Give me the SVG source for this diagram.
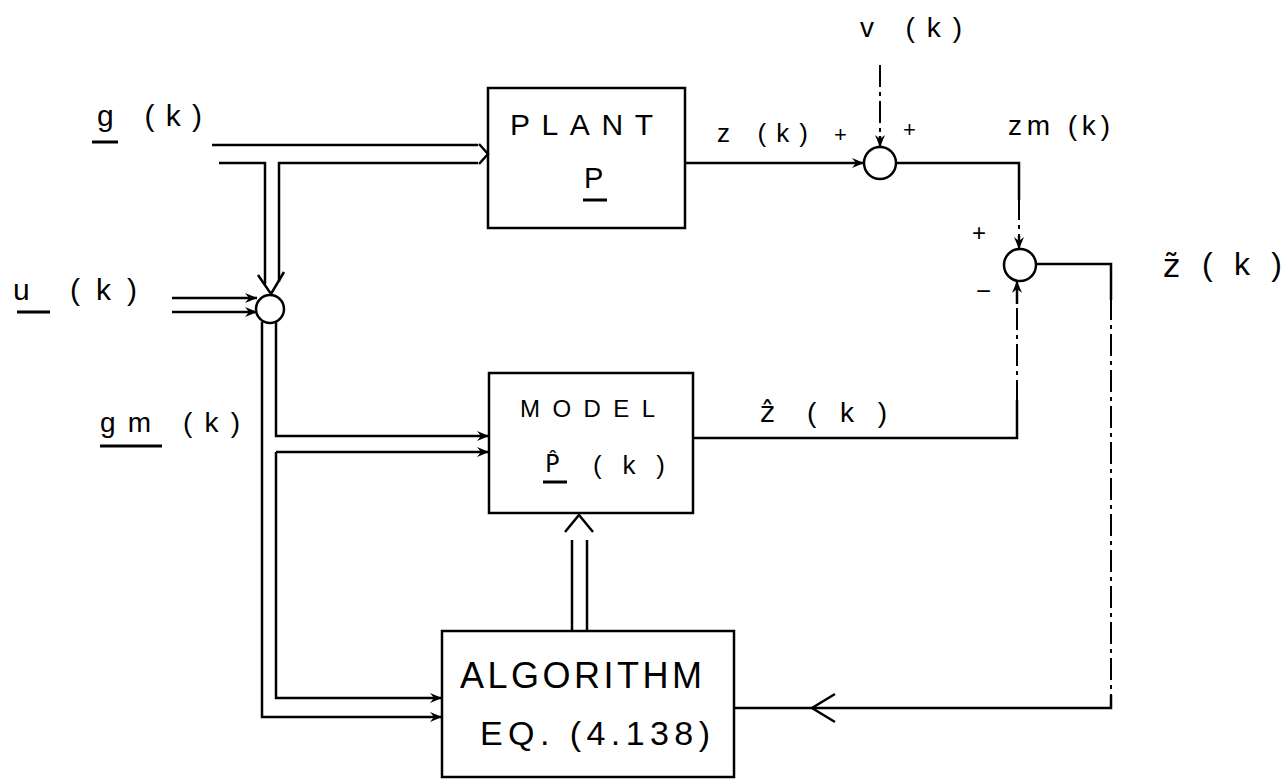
<svg xmlns="http://www.w3.org/2000/svg" width="1288" height="782" viewBox="0 0 1288 782">
<style>
  text { font-family: "Liberation Sans", Arial, sans-serif; fill: #000; }
  .acc { font-family: "DejaVu Sans", "Liberation Sans", sans-serif; }
  .box { fill: none; stroke: #000; stroke-width: 2.5; }
  .ln { fill: none; stroke: #000; stroke-width: 2.5; stroke-linejoin: miter; }
  .faint { fill: none; stroke: #000; stroke-width: 2; stroke-dasharray: 22 5 4 5; }
  .sum { fill: none; stroke: #000; stroke-width: 2.5; }
  .chev { fill: none; stroke: #000; stroke-width: 2.5; stroke-linejoin: miter; }
  .ul { stroke: #000; stroke-width: 3; }
</style>
<defs>
  <marker id="arr" viewBox="0 0 14 12" refX="13" refY="6" markerWidth="14" markerHeight="12" markerUnits="userSpaceOnUse" orient="auto">
    <path d="M1,1 L13,6 L1,11 L5,6 Z" fill="#000"/>
  </marker>
</defs>
<rect width="1288" height="782" fill="#fff"/>

<g id="plant">
  <rect class="box" x="488" y="88" width="197" height="140"/>
  <text x="510" y="135" font-size="30" textLength="143" lengthAdjust="spacing">PLANT</text>
  <text x="584" y="188" font-size="29">P</text>
  <line class="ul" x1="583" y1="200" x2="607" y2="200"/>
</g>

<g id="model">
  <rect class="box" x="489" y="373" width="204" height="140"/>
  <text x="520" y="417" font-size="24" textLength="135" lengthAdjust="spacing">MODEL</text>
  <text class="acc" x="545" y="472" font-size="24">P̂</text>
  <line class="ul" x1="543" y1="482" x2="567" y2="482"/>
  <text x="593" y="474" font-size="26" textLength="72" lengthAdjust="spacing">(k)</text>
</g>

<g id="algorithm">
  <rect class="box" x="442" y="631" width="292" height="146"/>
  <text x="460" y="688" font-size="36" textLength="242" lengthAdjust="spacing">ALGORITHM</text>
  <text x="480" y="745" font-size="34" textLength="230" lengthAdjust="spacing">EQ. (4.138)</text>
</g>

<g id="sum-input">
  <circle class="sum" cx="270" cy="309" r="14"/>
</g>
<g id="sum-noise">
  <circle class="sum" cx="880" cy="163" r="16"/>
  <text x="834" y="142" font-size="22">+</text>
  <text x="903" y="137" font-size="22">+</text>
</g>
<g id="sum-error">
  <circle class="sum" cx="1020" cy="265" r="16"/>
  <text x="972" y="241" font-size="24">+</text>
  <text x="976" y="300" font-size="26">−</text>
</g>

<g id="connectors">
  <!-- g(k) double arrow into plant -->
  <path class="ln" d="M212,145 H478"/>
  <path class="ln" d="M219,163 H265 V284"/>
  <path class="ln" d="M478,163 H279 V282"/>
  <path class="chev" d="M479,144 L488,154 L479,164"/>
  <path class="chev" d="M258,275 L271,294 L284,272"/>
  <!-- u(k) double arrow into junction -->
  <path class="ln" d="M172,298 H257" marker-end="url(#arr)"/>
  <path class="ln" d="M172,312 H257" marker-end="url(#arr)"/>
  <!-- from input junction -->
  <path class="ln" d="M262,322 V717 H442" marker-end="url(#arr)"/>
  <path class="ln" d="M276,322 V436 H489" marker-end="url(#arr)"/>
  <path class="ln" d="M276,452 H489" marker-end="url(#arr)"/>
  <path class="ln" d="M276,452 V698 H442" marker-end="url(#arr)"/>
  <!-- plant output -->
  <path class="ln" d="M685,163 H864" marker-end="url(#arr)"/>
  <!-- noise v(k) -->
  <path class="faint" d="M880,65 V140"/>
  <path class="ln" d="M880,136 V147" marker-end="url(#arr)"/>
  <!-- zm(k) to error junction -->
  <path class="ln" d="M896,163 H1019 V200"/>
  <path class="faint" d="M1019,198 V240"/>
  <path class="ln" d="M1019,236 V249" marker-end="url(#arr)"/>
  <!-- model output to error junction -->
  <path class="ln" d="M693,438 H1017 V400"/>
  <path class="faint" d="M1017,402 V300"/>
  <path class="ln" d="M1017,304 V281" marker-end="url(#arr)"/>
  <!-- error feedback to algorithm -->
  <path class="ln" d="M1036,264 H1111 V300"/>
  <path class="faint" d="M1111,298 V700"/>
  <path class="ln" d="M1111,695 V708 H735"/>
  <path class="chev" d="M835,694 L812,708 L835,722"/>
  <!-- algorithm to model double arrow -->
  <path class="ln" d="M572,631 V540"/>
  <path class="ln" d="M587,631 V540"/>
  <path class="chev" d="M565,532 L579,515 L593,532"/>
</g>

<g id="labels">
  <text x="97" y="126" font-size="30" textLength="105" lengthAdjust="spacing">g (k)</text>
  <line class="ul" x1="92" y1="142" x2="118" y2="142"/>
  <text x="13" y="300" font-size="30" textLength="124" lengthAdjust="spacing">u (k)</text>
  <line class="ul" x1="17" y1="312" x2="50" y2="312"/>
  <text x="100" y="432" font-size="28" textLength="140" lengthAdjust="spacing">gm (k)</text>
  <line class="ul" x1="100" y1="446" x2="162" y2="446"/>
  <text x="717" y="142" font-size="26" textLength="91" lengthAdjust="spacing">z (k)</text>
  <text x="860" y="37" font-size="28" textLength="102" lengthAdjust="spacing">v (k)</text>
  <text x="1008" y="135" font-size="28" textLength="102" lengthAdjust="spacing">zm (k)</text>
  <text class="acc" x="760" y="422" font-size="28">ẑ</text>
  <text x="807" y="422" font-size="28" textLength="80" lengthAdjust="spacing">(k)</text>
  <text class="acc" x="1163" y="277" font-size="32">z̃</text>
  <text x="1202" y="275" font-size="32" textLength="80" lengthAdjust="spacing">(k)</text>
</g>
</svg>
